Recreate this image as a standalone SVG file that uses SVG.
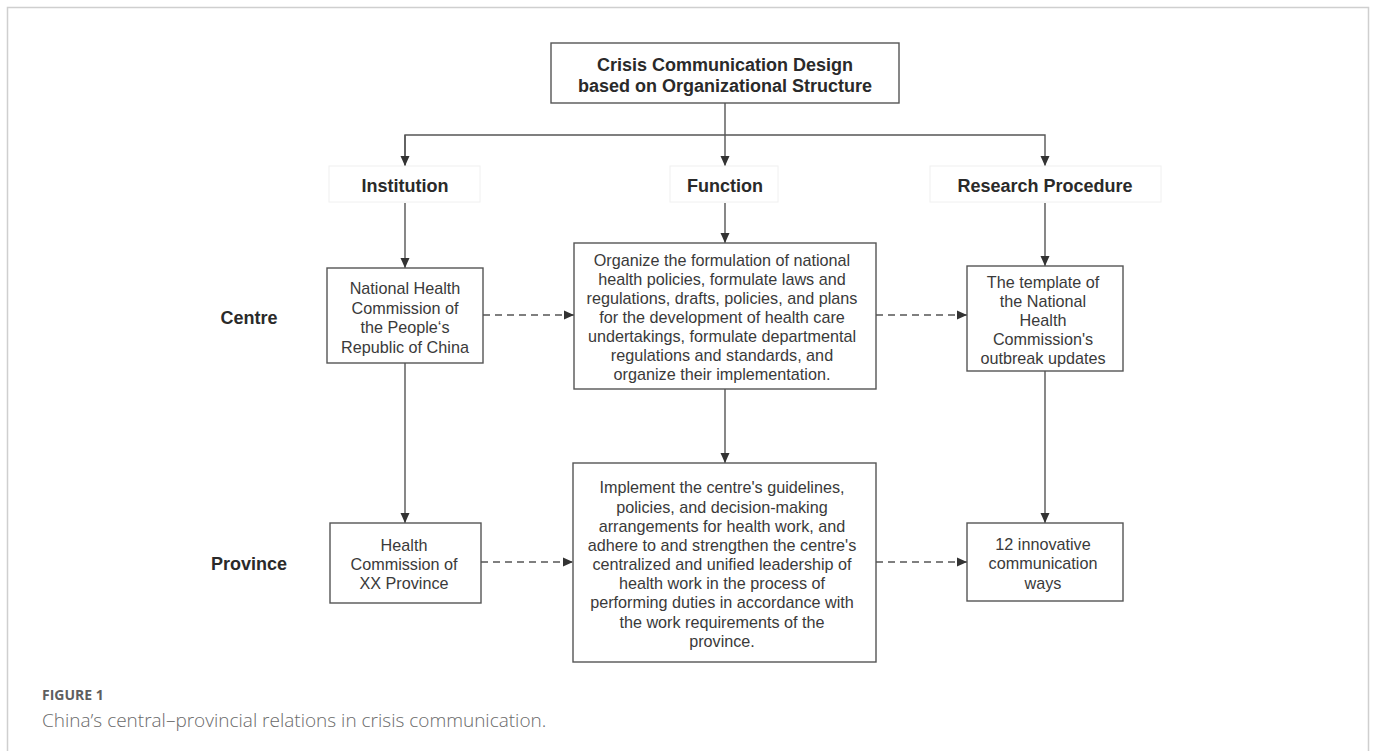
<svg xmlns="http://www.w3.org/2000/svg" width="1375" height="751" viewBox="0 0 1375 751">
<style>
.box{fill:#fff;stroke:#555;stroke-width:1.4}
.lbl{fill:#fff;stroke:#f0f0f0;stroke-width:1}
.t{font-family:"Liberation Sans",Arial,sans-serif;font-size:16.2px;fill:#3a3a3a;text-anchor:middle}
.b{font-family:"Liberation Sans",Arial,sans-serif;font-size:18px;font-weight:bold;fill:#2a2a2a;text-anchor:middle}
.ln{fill:none;stroke:#555;stroke-width:1.4}
.dash{fill:none;stroke:#555;stroke-width:1.4;stroke-dasharray:7 5}
</style>
<defs>
<marker id="ah" markerWidth="10" markerHeight="12" refX="10" refY="6" orient="auto" markerUnits="userSpaceOnUse">
<path d="M0,1.5 L10,6 L0,10.5 Z" fill="#333"/>
</marker>
</defs>
<rect width="1375" height="751" fill="#fff"/>
<rect x="7.5" y="7.5" width="1361" height="800" fill="none" stroke="#cfcfcf" stroke-width="1.5"/>

<g id="connectors">
<path class="ln" d="M725,103 V166" marker-end="url(#ah)"/>
<path class="ln" d="M405,166 V135 H1045 V166" marker-end="url(#ah)"/>
<path class="ln" d="M405,135 V166" marker-end="url(#ah)"/>
<path class="ln" d="M405,203 V268" marker-end="url(#ah)"/>
<path class="ln" d="M725,203 V243" marker-end="url(#ah)"/>
<path class="ln" d="M1045,203 V266" marker-end="url(#ah)"/>
<path class="ln" d="M405,363 V523" marker-end="url(#ah)"/>
<path class="ln" d="M725,389 V463" marker-end="url(#ah)"/>
<path class="ln" d="M1045,371 V523" marker-end="url(#ah)"/>
<path class="dash" d="M483,315 H574" marker-end="url(#ah)"/>
<path class="dash" d="M876,315 H967" marker-end="url(#ah)"/>
<path class="dash" d="M481,562 H573" marker-end="url(#ah)"/>
<path class="dash" d="M876,562 H967" marker-end="url(#ah)"/>
</g>

<g id="title">
<rect class="box" x="551" y="43" width="348" height="60"/>
<text class="b" x="725" y="71">Crisis Communication Design</text>
<text class="b" x="725" y="92">based on Organizational Structure</text>
</g>

<g id="label-institution">
<rect class="lbl" x="329" y="166" width="151" height="36"/>
<text class="b" x="405" y="192">Institution</text>
</g>
<g id="label-function">
<rect class="lbl" x="670" y="166" width="108" height="36"/>
<text class="b" x="725" y="192">Function</text>
</g>
<g id="label-research">
<rect class="lbl" x="930" y="166" width="231" height="36"/>
<text class="b" x="1045" y="192">Research Procedure</text>
</g>

<g id="row-centre">
<text class="b" x="249" y="324">Centre</text>
</g>
<g id="row-province">
<text class="b" x="249" y="570">Province</text>
</g>

<g id="nhc">
<rect class="box" x="327" y="268" width="156" height="95"/>
<text class="t" x="405" y="294">National Health</text>
<text class="t" x="405" y="314">Commission of</text>
<text class="t" x="405" y="333">the People‘s</text>
<text class="t" x="405" y="353">Republic of China</text>
</g>

<g id="function-centre">
<rect class="box" x="574" y="243" width="302" height="146"/>
<text class="t" x="722" y="266">Organize the formulation of national</text>
<text class="t" x="722" y="285">health policies, formulate laws and</text>
<text class="t" x="722" y="304">regulations, drafts, policies, and plans</text>
<text class="t" x="722" y="323">for the development of health care</text>
<text class="t" x="722" y="342">undertakings, formulate departmental</text>
<text class="t" x="722" y="361">regulations and standards, and</text>
<text class="t" x="722" y="380">organize their implementation.</text>
</g>

<g id="template">
<rect class="box" x="967" y="266" width="156" height="105"/>
<text class="t" x="1043" y="288">The template of</text>
<text class="t" x="1043" y="307">the National</text>
<text class="t" x="1043" y="326">Health</text>
<text class="t" x="1043" y="345">Commission's</text>
<text class="t" x="1043" y="364">outbreak updates</text>
</g>

<g id="hc-province">
<rect class="box" x="330" y="523" width="151" height="80"/>
<text class="t" x="404" y="551">Health</text>
<text class="t" x="404" y="570">Commission of</text>
<text class="t" x="404" y="589">XX Province</text>
</g>

<g id="function-province">
<rect class="box" x="573" y="463" width="303" height="199"/>
<text class="t" x="722" y="493">Implement the centre's guidelines,</text>
<text class="t" x="722" y="513">policies, and decision-making</text>
<text class="t" x="722" y="532">arrangements for health work, and</text>
<text class="t" x="722" y="551">adhere to and strengthen the centre's</text>
<text class="t" x="722" y="570">centralized and unified leadership of</text>
<text class="t" x="722" y="589">health work in the process of</text>
<text class="t" x="722" y="608">performing duties in accordance with</text>
<text class="t" x="722" y="628">the work requirements of the</text>
<text class="t" x="722" y="647">province.</text>
</g>

<g id="innovative">
<rect class="box" x="967" y="523" width="156" height="78"/>
<text class="t" x="1043" y="550">12 innovative</text>
<text class="t" x="1043" y="569">communication</text>
<text class="t" x="1043" y="589">ways</text>
</g>

<g id="caption">
<text x="42" y="700" font-family="'Open Sans','Noto Sans',sans-serif" font-size="14" font-weight="bold" fill="#5e5e5e">FIGURE 1</text>
<text x="42" y="727" font-family="'Open Sans','Noto Sans',sans-serif" font-size="19" font-weight="300" fill="#6a6a6a">China’s central–provincial relations in crisis communication.</text>
</g>
</svg>
